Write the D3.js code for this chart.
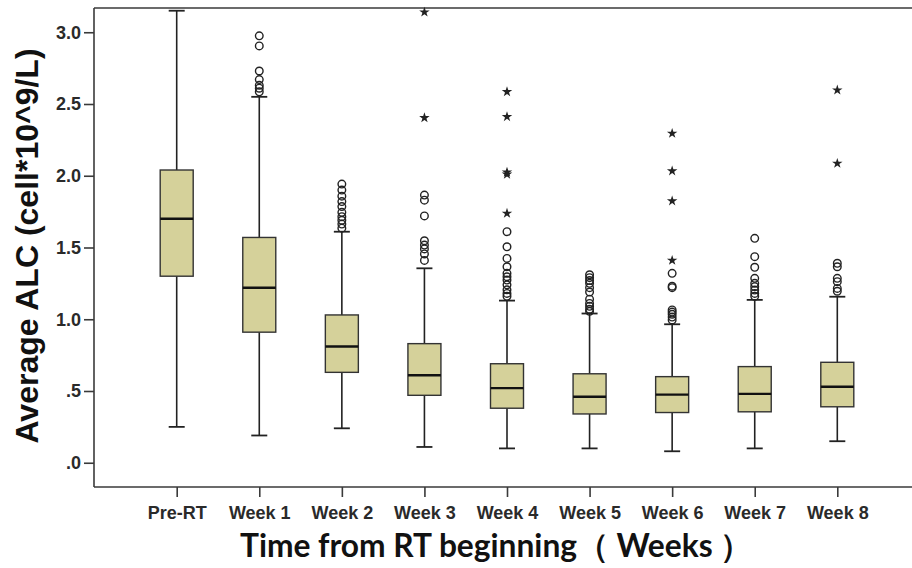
<!DOCTYPE html>
<html>
<head>
<meta charset="utf-8">
<script src="https://cdnjs.cloudflare.com/ajax/libs/d3/7.8.5/d3.min.js"></script>
<style>
  html, body { margin: 0; padding: 0; background: #fff; }
  svg { display: block; }
</style>
</head>
<body>
<svg id="chart" width="912" height="568"></svg>
<script>
const categories = ["Pre-RT", "Week 1", "Week 2", "Week 3", "Week 4", "Week 5", "Week 6", "Week 7", "Week 8"];
const whiskerLow  = [0.25, 0.19, 0.24, 0.11, 0.10, 0.10, 0.08, 0.10, 0.15];
const q1          = [1.30, 0.91, 0.63, 0.47, 0.38, 0.34, 0.35, 0.355, 0.39];
const medians     = [1.70, 1.22, 0.81, 0.61, 0.52, 0.46, 0.475, 0.48, 0.53];
const q3          = [2.04, 1.57, 1.03, 0.83, 0.69, 0.62, 0.60, 0.67, 0.70];
const whiskerHigh = [3.15, 2.55, 1.61, 1.355, 1.13, 1.04, 0.965, 1.135, 1.157];
const outliers = [
  [],
  [2.975, 2.905, 2.73, 2.67, 2.63, 2.61, 2.585],
  [1.942, 1.90, 1.858, 1.82, 1.785, 1.745, 1.715, 1.69, 1.663, 1.635],
  [1.865, 1.83, 1.72, 1.547, 1.517, 1.49, 1.455, 1.41],
  [1.61, 1.505, 1.424, 1.366, 1.32, 1.296, 1.273, 1.24, 1.205, 1.18, 1.16],
  [1.31, 1.29, 1.27, 1.25, 1.22, 1.19, 1.14, 1.11, 1.09, 1.07, 1.055],
  [1.32, 1.23, 1.22, 1.065, 1.05, 1.035, 1.015, 0.995],
  [1.564, 1.436, 1.362, 1.285, 1.25, 1.227, 1.203, 1.18, 1.16],
  [1.39, 1.366, 1.285, 1.262, 1.215, 1.195]
];
const extremes = [
  [],
  [],
  [],
  [3.14, 2.404],
  [2.585, 2.411, 2.025, 2.01, 1.738],
  [],
  [2.295, 2.033, 1.824, 1.41],
  [],
  [2.597, 2.086]
];
const yTicks = [0, 0.5, 1.0, 1.5, 2.0, 2.5, 3.0];

const svg = d3.select("#chart");
const mLeft = 94, mTop = 8, mBottom = 487, mRight = 912;

const y = d3.scaleLinear().domain([-0.169, 3.169]).range([mBottom, mTop]);
const x = d3.scalePoint().domain(categories).range([176.7, 837.3]);

const axisColor = "#3a3a3a";
const fillColor = "#d5d19a";
const boxW = 33, capW = 16;

// frame top line
svg.append("line").attr("x1", mLeft).attr("x2", mRight).attr("y1", mTop).attr("y2", mTop)
  .attr("stroke", axisColor).attr("stroke-width", 1.6);

// Y axis
const yAxis = d3.axisLeft(y).tickValues(yTicks).tickSize(10).tickSizeOuter(0)
  .tickFormat(d => d3.format(".1f")(d).replace(/^0/, ""));
const gy = svg.append("g").attr("transform", `translate(${mLeft},0)`).call(yAxis);
gy.select(".domain").attr("stroke", axisColor).attr("stroke-width", 1.6)
  .attr("d", `M0,${mTop}V${mBottom}`);
gy.selectAll(".tick line").attr("stroke", axisColor).attr("stroke-width", 1.6);
gy.selectAll(".tick text").attr("font-family", "Liberation Sans, Arial, sans-serif")
  .attr("font-weight", "bold").attr("font-size", 18).attr("fill", "#2a2a2a").attr("x", -13);

// X axis
const xAxis = d3.axisBottom(x).tickSize(10).tickSizeOuter(0);
const gx = svg.append("g").attr("transform", `translate(0,${mBottom})`).call(xAxis);
gx.select(".domain").attr("stroke", axisColor).attr("stroke-width", 1.6)
  .attr("d", `M${mLeft},0H${mRight}`);
gx.selectAll(".tick line").attr("stroke", axisColor).attr("stroke-width", 1.6);
gx.selectAll(".tick text").attr("font-family", "Liberation Sans, Arial, sans-serif")
  .attr("font-weight", "bold").attr("font-size", 18).attr("fill", "#2a2a2a").attr("dy", "1.05em");

// boxes
const data = categories.map((c, i) => ({
  c, lo: whiskerLow[i], q1: q1[i], med: medians[i], q3: q3[i], hi: whiskerHigh[i],
  out: outliers[i], ext: extremes[i]
}));

const g = svg.append("g");
const bx = g.selectAll("g.box").data(data).join("g").attr("class", "box");

bx.append("line").attr("x1", d => x(d.c)).attr("x2", d => x(d.c))
  .attr("y1", d => y(d.hi)).attr("y2", d => y(d.q3)).attr("stroke", "#222").attr("stroke-width", 1.6);
bx.append("line").attr("x1", d => x(d.c)).attr("x2", d => x(d.c))
  .attr("y1", d => y(d.q1)).attr("y2", d => y(d.lo)).attr("stroke", "#222").attr("stroke-width", 1.6);
bx.append("line").attr("x1", d => x(d.c) - capW / 2).attr("x2", d => x(d.c) + capW / 2)
  .attr("y1", d => y(d.hi)).attr("y2", d => y(d.hi)).attr("stroke", "#222").attr("stroke-width", 1.8);
bx.append("line").attr("x1", d => x(d.c) - capW / 2).attr("x2", d => x(d.c) + capW / 2)
  .attr("y1", d => y(d.lo)).attr("y2", d => y(d.lo)).attr("stroke", "#222").attr("stroke-width", 1.8);
bx.append("rect").attr("x", d => x(d.c) - boxW / 2).attr("width", boxW)
  .attr("y", d => y(d.q3)).attr("height", d => y(d.q1) - y(d.q3))
  .attr("fill", fillColor).attr("stroke", "#333").attr("stroke-width", 1.4);
bx.append("line").attr("x1", d => x(d.c) - boxW / 2).attr("x2", d => x(d.c) + boxW / 2)
  .attr("y1", d => y(d.med)).attr("y2", d => y(d.med)).attr("stroke", "#111").attr("stroke-width", 2.4);

// outliers (circles)
bx.selectAll("circle").data(d => d.out.map(v => ({ c: d.c, v }))).join("circle")
  .attr("cx", d => x(d.c)).attr("cy", d => y(d.v)).attr("r", 3.8)
  .attr("fill", "none").attr("stroke", "#222").attr("stroke-width", 1.4);

// extremes (stars)
const star = d3.symbol().type(d3.symbolStar).size(34);
bx.selectAll("path.star").data(d => d.ext.map(v => ({ c: d.c, v }))).join("path")
  .attr("class", "star").attr("d", star)
  .attr("transform", d => `translate(${x(d.c)},${y(d.v)})`).attr("fill", "#222");

// Axis titles
svg.append("text").attr("transform", `translate(38,246) rotate(-90)`)
  .attr("text-anchor", "middle").attr("font-family", "Liberation Sans, Arial, sans-serif")
  .attr("font-weight", "bold").attr("font-size", 32).attr("fill", "#111")
  .text("Average ALC (cell*10^9/L)");

svg.append("text").attr("x", 496).attr("y", 557)
  .attr("text-anchor", "middle").attr("font-family", "Lato, 'Open Sans', sans-serif")
  .attr("font-weight", "bold").attr("font-size", 32).attr("fill", "#111")
  .attr("textLength", 512).attr("lengthAdjust", "spacingAndGlyphs")
  .text("Time from RT beginning（ Weeks ）");
</script>
</body>
</html>
